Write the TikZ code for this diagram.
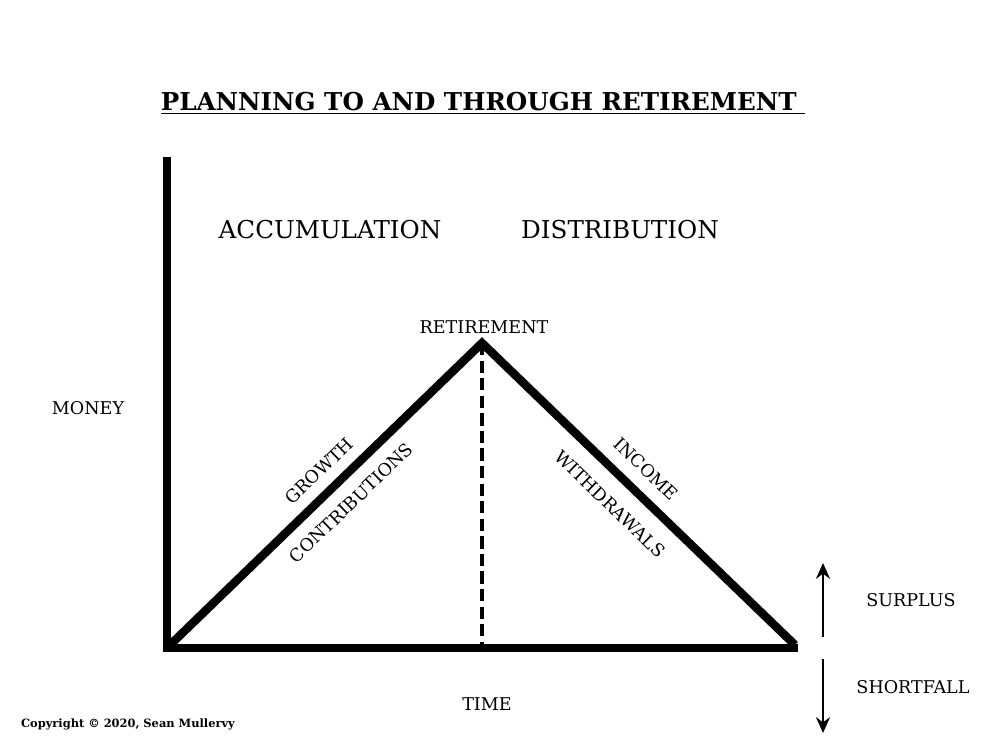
\documentclass[tikz,border=0pt]{standalone}
\usepackage{fontspec}
\setmainfont{DejaVu Serif}
\usetikzlibrary{arrows.meta}
\begin{document}
\begin{tikzpicture}[x=0.02cm,y=-0.02cm,
  lbl/.style={font=\fontsize{10}{12}\selectfont,inner sep=0},
  big/.style={font=\fontsize{14}{16}\selectfont,inner sep=0},
  thick line/.style={line width=4.8pt},
  arr/.style={line width=1.3pt,-{Stealth[length=9pt,width=8pt]}}]
\useasboundingbox (0,0) rectangle (1000,750);
\node[inner sep=0,font=\fontsize{14}{17}\selectfont\bfseries] (title) at (483,103) {\underline{PLANNING TO AND THROUGH RETIREMENT\ }};
\coordinate (top) at (167,157);
\coordinate (origin) at (167,648);
\coordinate (xend) at (798,648);
\coordinate (l) at (170,645);
\coordinate (apex) at (482,343);
\coordinate (r) at (795,645);
\coordinate (base) at (482,645);
\draw[thick line] (top) -- (origin) -- (xend);
\draw[thick line,line join=miter] (l) -- (apex) -- (r);
\draw[line width=2.2pt,dash pattern=on 7pt off 3pt] (apex) -- (base);
\node[big] (acc) at (330,230) {ACCUMULATION};
\node[big] (dist) at (620,230) {DISTRIBUTION};
\node[lbl] (ret) at (484,327) {RETIREMENT};
\node[lbl] (money) at (88,408) {MONEY};
\node[lbl] (time) at (487,704) {TIME};
\node[lbl] (sur) at (911,600) {SURPLUS};
\node[lbl] (sho) at (913,687) {SHORTFALL};
\node[inner sep=0,font=\fontsize{6.5}{8}\selectfont\bfseries] (copy) at (128,724) {Copyright © 2020, Sean Mullervy};
\node[lbl,rotate=44] (gr) at (319,471) {GROWTH};
\node[lbl,rotate=44] (co) at (351,503) {CONTRIBUTIONS};
\node[lbl,rotate=-44] (inc) at (646,469) {INCOME};
\node[lbl,rotate=-44] (wd) at (610,504) {WITHDRAWALS};
\coordinate (ua) at (823,637); \coordinate (ub) at (823,563);
\coordinate (da) at (823,659); \coordinate (db) at (823,733);
\draw[arr] (ua) -- (ub);
\draw[arr] (da) -- (db);
\end{tikzpicture}
\end{document}
